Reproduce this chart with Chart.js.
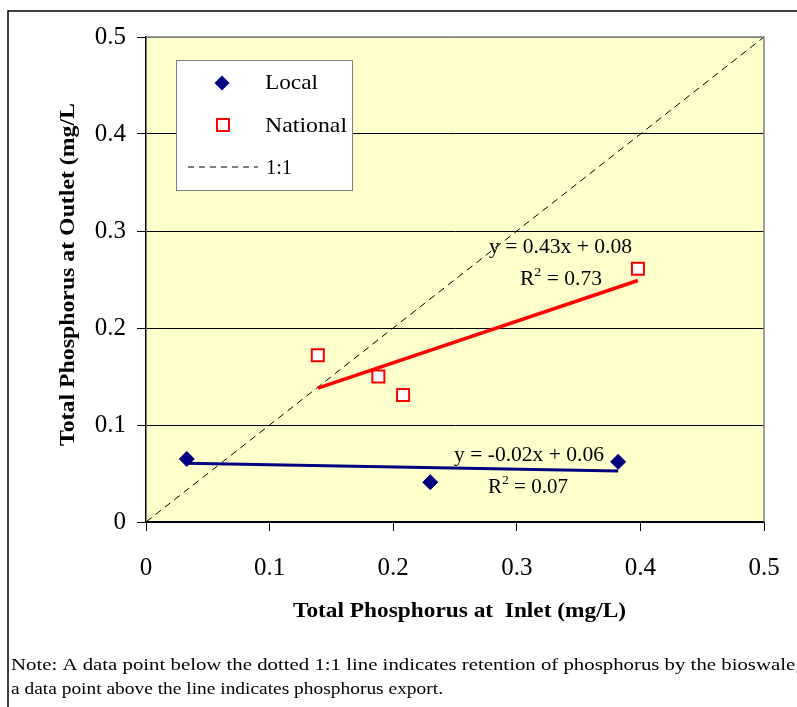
<!DOCTYPE html>
<html><head><meta charset="utf-8">
<script src="https://cdn.jsdelivr.net/npm/chart.js@4"></script>
<style>html,body{margin:0;padding:0;background:#fff}#wrap{width:797px;height:707px}</style>
</head><body><div id="wrap"><canvas id="c" width="797" height="707"></canvas></div>
<script>
const localPoints = [{x:0.033,y:0.065},{x:0.230,y:0.041},{x:0.382,y:0.062}];
const nationalPoints = [{x:0.139,y:0.172},{x:0.188,y:0.150},{x:0.208,y:0.131},{x:0.398,y:0.261}];
const localTrend = [{x:0.033,y:0.0605},{x:0.382,y:0.0525}];
const nationalTrend = [{x:0.139,y:0.138},{x:0.398,y:0.249}];
const oneToOne = [{x:0,y:0},{x:0.5,y:0.5}];
const tickValues = [0,0.1,0.2,0.3,0.4,0.5];
const labels = {local:'Local', national:'National', ref:'1:1'};
const eqNational = ['y = 0.43x + 0.08','0.73'];
const eqLocal = ['y = -0.02x + 0.06','0.07'];
const xTitle = 'Total Phosphorus at  Inlet (mg/L)';
const yTitle = 'Total Phosphorus at Outlet (mg/L';
const noteLines = ['Note: A data point below the dotted 1:1 line indicates retention of phosphorus by the bioswale;','a data point above the line indicates phosphorus export.'];

const SERIF = '"Liberation Serif","Times New Roman",serif';
const NAVY = '#000080', RED = '#FF0000';

function fitText(ctx, text, x, y, width, font){
  ctx.font = font; ctx.textAlign='left'; ctx.textBaseline='middle';
  const w = ctx.measureText(text).width;
  ctx.save(); ctx.translate(x,y); ctx.scale(width/w,1); ctx.fillText(text,0,0); ctx.restore();
}

const deco = {
  id:'deco',
  beforeDraw(chart){
    const {ctx, chartArea:a} = chart;
    ctx.save();
    ctx.fillStyle='#fff'; ctx.fillRect(0,0,chart.width,chart.height);
    ctx.fillStyle='#FFFFCC'; ctx.fillRect(a.left,a.top,a.right-a.left,a.bottom-a.top);
    ctx.restore();
  },
  afterDraw(chart){
    const {ctx, chartArea:a} = chart;
    ctx.save();
    ctx.strokeStyle='#808080'; ctx.lineWidth=1.5;
    ctx.beginPath(); ctx.moveTo(a.left,a.top); ctx.lineTo(a.right,a.top); ctx.lineTo(a.right,a.bottom); ctx.stroke();
    ctx.strokeStyle='#000'; ctx.lineWidth=1.5;
    ctx.beginPath(); ctx.moveTo(8,707); ctx.lineTo(8,11); ctx.lineTo(797,11); ctx.stroke();
    ctx.fillStyle='#000';
    fitText(ctx, xTitle, 293, 612, 333, 'bold 21px '+SERIF);
    ctx.save(); ctx.translate(69,446); ctx.rotate(-Math.PI/2); fitText(ctx, yTitle, 0, 0, 343, 'bold 21px '+SERIF); ctx.restore();
    ctx.fillStyle='#fff'; ctx.fillRect(176,60,176,130);
    ctx.strokeStyle='#808080'; ctx.lineWidth=1; ctx.strokeRect(176.5,60.5,176,130);
    ctx.fillStyle=NAVY; ctx.beginPath(); ctx.moveTo(222,75.5); ctx.lineTo(229.5,83); ctx.lineTo(222,90.5); ctx.lineTo(214.5,83); ctx.closePath(); ctx.fill();
    ctx.fillStyle='#fff'; ctx.strokeStyle=RED; ctx.lineWidth=2; ctx.fillRect(217,119,12,12); ctx.strokeRect(217,119,12,12);
    ctx.strokeStyle='#000'; ctx.lineWidth=1; ctx.setLineDash([6,5]); ctx.beginPath(); ctx.moveTo(188,167); ctx.lineTo(258,167); ctx.stroke(); ctx.setLineDash([]);
    ctx.fillStyle='#000';
    fitText(ctx, labels.local, 265, 83, 53, '22px '+SERIF);
    fitText(ctx, labels.national, 265, 126, 82, '22px '+SERIF);
    fitText(ctx, labels.ref, 266, 168, 26, '22px '+SERIF);
    function eq(lines, x1, w1, y1, x2, w2t, y2){
      fitText(ctx, lines[0], x1, y1, w1, '20px '+SERIF);
      const rest=' = '+lines[1];
      ctx.font='20px '+SERIF; const wR=ctx.measureText('R').width, wRest=ctx.measureText(rest).width;
      ctx.font='13px '+SERIF; const w2=ctx.measureText('2').width;
      const total=wR+w2+wRest; const s = w2t/total;
      ctx.save(); ctx.translate(x2,y2); ctx.scale(s,1);
      ctx.textAlign='left'; ctx.textBaseline='middle';
      ctx.font='20px '+SERIF; ctx.fillText('R',0,0);
      ctx.font='13px '+SERIF; ctx.fillText('2',wR,-7);
      ctx.font='20px '+SERIF; ctx.fillText(rest,wR+w2,0);
      ctx.restore();
    }
    eq(eqNational, 489, 143, 248, 520, 82, 280);
    eq(eqLocal, 454, 150, 456, 488, 80, 488);
    fitText(ctx, noteLines[0], 11, 666, 790, '17px '+SERIF);
    fitText(ctx, noteLines[1], 11, 690, 432, '17px '+SERIF);
    ctx.restore();
  }
};

new Chart(document.getElementById('c'),{
  type:'scatter',
  data:{datasets:[
    {label:'1:1',data:oneToOne,showLine:true,borderColor:'#000',borderWidth:1,borderDash:[7,5],pointRadius:0,order:3},
    {label:'Local trend',data:localTrend,showLine:true,borderColor:NAVY,borderWidth:3,pointRadius:0,order:2},
    {label:'National trend',data:nationalTrend,showLine:true,borderColor:RED,borderWidth:3.5,pointRadius:0,order:2},
    {label:labels.local,data:localPoints,pointStyle:'rectRot',pointRadius:7.5,backgroundColor:NAVY,borderColor:NAVY,borderWidth:1,order:1},
    {label:labels.national,data:nationalPoints,pointStyle:'rect',pointRadius:8.5,backgroundColor:'#fff',borderColor:RED,borderWidth:2,order:1}
  ]},
  options:{
    responsive:false,animation:false,devicePixelRatio:1,
    layout:{padding:{left:0,top:37,right:33,bottom:85}},
    plugins:{legend:{display:false},tooltip:{enabled:false}},
    scales:{
      x:{type:'linear',min:0,max:0.5,
        afterBuildTicks(s){s.ticks=tickValues.map(v=>({value:v}));},
        afterFit(s){s.height=100; s.paddingLeft=0; s.paddingRight=0;},
        grid:{drawOnChartArea:false,drawTicks:true,tickLength:9,color:'#000'},
        border:{color:'#000',width:1.5},
        ticks:{color:'#000',font:{family:SERIF,size:25},padding:22,callback:v=>String(v),maxRotation:0}
      },
      y:{type:'linear',min:0,max:0.5,
        afterBuildTicks(s){s.ticks=tickValues.map(v=>({value:v}));},
        afterFit(s){s.width=146; s.paddingTop=0; s.paddingBottom=0;},
        grid:{color:c=>c.tick&&c.tick.value===0.5?'#808080':'#000',tickColor:'#000',tickLength:9,lineWidth:1},
        border:{color:'#000',width:1.5},
        ticks:{color:'#000',font:{family:SERIF,size:25},padding:11,callback:v=>String(v)}
      }
    }
  },
  plugins:[deco]
});
</script></body></html>
